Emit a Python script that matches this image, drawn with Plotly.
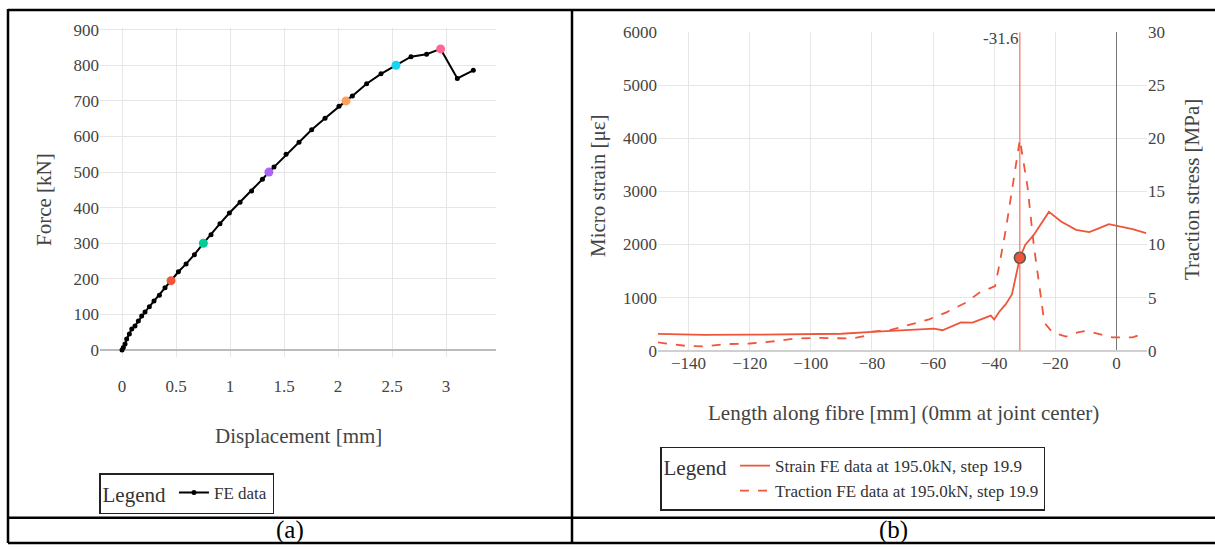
import plotly.graph_objects as go

# ---------------- Panel (a) data ----------------
disp_mm = [0, 0.012, 0.028, 0.043, 0.068, 0.09, 0.12, 0.151, 0.182, 0.213, 0.253, 0.296,
           0.346, 0.398, 0.454, 0.522, 0.593, 0.67, 0.753, 0.824, 0.907, 0.994, 1.093,
           1.2, 1.30, 1.36, 1.407, 1.519, 1.639, 1.756, 1.88, 2.009, 2.074, 2.133, 2.265,
           2.398, 2.537, 2.676, 2.82, 2.95, 3.105, 3.253]
force_kN = [0, 7, 17, 31, 45, 59, 68, 82, 96, 107, 122, 138, 154, 175, 195, 220, 242, 268,
            300, 324, 355, 385, 415, 447, 480, 500, 514, 550, 584, 619, 651, 685, 700, 714,
            748, 776, 800, 824, 831, 846, 763, 786]
highlight_idx = [14, 18, 25, 32, 36, 39]
highlight_colors = ["#EF553B", "#00CC96", "#AB63FA", "#FFA15A", "#19D3F3", "#FF6692"]

# ---------------- Panel (b) data ----------------
strain_x = [-150, -135, -120, -100, -90, -79.9, -66.8, -59.7, -56.9, -54.8, -50.9, -47.1,
            -43.8, -41.1, -40, -38.4, -36.2, -34.2, -32.9, -31.6, -29.8, -27.0, -22.1,
            -18.1, -13.2, -8.9, -5.6, -2.5, 1.0, 5.3, 9.7]
strain_ue = [315, 298, 300, 305, 318, 353, 390, 416, 384, 435, 530, 528, 603, 660, 585, 728,
             875, 1059, 1403, 1750, 1997, 2184, 2615, 2434, 2278, 2235, 2310, 2385, 2340,
             2291, 2216]
traction_x = [-150, -141, -134.5, -128, -120, -110.5, -105, -98.5, -86.5, -82, -79.9, -74.4,
              -69, -61.3, -55.8, -49.3, -44.9, -40.6, -39.7, -38.4, -36.2, -34.0, -31.6,
              -29.1, -27.0, -25.2, -23.6, -20.9, -16.5, -12.7, -9.9, -5.6, -1.2, 5.3, 9.7]
traction_MPa = [0.77, 0.45, 0.39, 0.61, 0.67, 0.92, 1.14, 1.2, 1.14, 1.39, 1.8, 1.92, 2.33,
                2.95, 3.58, 4.52, 5.46, 5.92, 6.08, 7.95, 11.4, 15.45, 19.9, 15.45, 9.83,
                6.08, 2.64, 1.71, 1.33, 1.71, 1.86, 1.55, 1.24, 1.24, 1.71]
peak_x = -31.6
peak_strain = 1750

W, H = 1215, 553
FONT = "Liberation Serif"
RED = "#EF553B"
# the photographed page appears offset/squeezed vertically; compensate placement
Y_OFF, Y_SCALE = 8.0, 0.971


def px(x):
    return x / W


def py(y):
    yp = (y - Y_OFF) / Y_SCALE
    return min(1.0, max(0.0, 1 - yp / H))


fig = go.Figure()

# Panel (a)
fig.add_trace(go.Scatter(x=disp_mm, y=force_kN, mode="lines+markers", name="FE data",
                         line=dict(color="black", width=2), marker=dict(color="black", size=5),
                         xaxis="x", yaxis="y", legend="legend"))
fig.add_trace(go.Scatter(x=[disp_mm[i] for i in highlight_idx],
                         y=[force_kN[i] for i in highlight_idx], mode="markers",
                         marker=dict(color=highlight_colors, size=9), showlegend=False,
                         xaxis="x", yaxis="y"))

# Panel (b)
fig.add_trace(go.Scatter(x=strain_x, y=strain_ue, mode="lines",
                         name="Strain FE data at 195.0kN, step 19.9",
                         line=dict(color=RED, width=1.8), xaxis="x2", yaxis="y2",
                         legend="legend2"))
fig.add_trace(go.Scatter(x=traction_x, y=traction_MPa, mode="lines",
                         name="Traction FE data at 195.0kN, step 19.9",
                         line=dict(color=RED, width=1.8, dash="dash"), xaxis="x2", yaxis="y3",
                         legend="legend2"))
fig.add_trace(go.Scatter(x=[peak_x], y=[peak_strain], mode="markers", showlegend=False,
                         marker=dict(color=RED, size=11, line=dict(color="#555", width=1.5)),
                         xaxis="x2", yaxis="y2"))

tickfont = dict(family=FONT, size=17, color="#444")
grid = "#E6E6E6"

fig.update_layout(
    width=W, height=H, autosize=False,
    margin=dict(l=0, r=0, t=0, b=0),
    paper_bgcolor="white", plot_bgcolor="white",
    font=dict(family=FONT, color="#444"),
    xaxis=dict(domain=[px(100), px(496)], range=[-0.204, 3.463], dtick=0.5, anchor="y",
               gridcolor=grid, zeroline=False, showline=False,
               tickfont=tickfont, ticklabelstandoff=17),
    yaxis=dict(domain=[py(358), py(27)], range=[-19.6, 905], dtick=100, anchor="x",
               gridcolor=grid, zeroline=True, zerolinecolor="#BBBBBB", zerolinewidth=1.5,
               showline=False, tickfont=tickfont),
    xaxis2=dict(domain=[px(658), px(1147)], range=[-150, 10], dtick=20, anchor="y2",
                gridcolor=grid, zeroline=True, zerolinecolor="#777", zerolinewidth=1,
                showline=False, tickfont=tickfont),
    yaxis2=dict(domain=[py(351.5), py(31.5)], range=[0, 6000], dtick=1000, anchor="x2",
                gridcolor=grid, zeroline=True, zerolinecolor="#D0D0D0", zerolinewidth=1.5,
                showline=False, tickfont=tickfont),
    yaxis3=dict(overlaying="y2", side="right", anchor="x2", range=[0, 30], dtick=5,
                showgrid=False, zeroline=False, showline=False, tickfont=tickfont),
    legend=dict(x=px(99), y=py(475), xanchor="left", yanchor="top",
                bordercolor="#222", borderwidth=1.5, bgcolor="white",
                font=dict(family=FONT, size=17, color="#333"),
                title=dict(text="Legend", side="left", font=dict(family=FONT, size=21, color="#333"))),
    legend2=dict(x=px(660), y=py(448), xanchor="left", yanchor="top",
                 bordercolor="#222", borderwidth=1.5, bgcolor="white",
                 font=dict(family=FONT, size=17, color="#333"),
                 title=dict(text="Legend", side="left", font=dict(family=FONT, size=21, color="#333"))),
)

# Vertical marker line at peak location
fig.add_shape(type="line", xref="x2", yref="y2 domain", x0=peak_x, x1=peak_x, y0=0, y1=1,
              line=dict(color=RED, width=1))

# Axis titles and captions
title_font = dict(family=FONT, size=21, color="#444")
anns = [
    dict(text="Force [kN]", x=px(44), y=py(200), textangle=-90),
    dict(text="Displacement [mm]", x=px(298), y=py(437)),
    dict(text="Micro strain [με]", x=px(598), y=py(186), textangle=-90),
    dict(text="Traction stress [MPa]", x=px(1192), y=py(190), textangle=-90),
    dict(text="Length along fibre [mm] (0mm at joint center)", x=px(903), y=py(414)),
]
for a in anns:
    fig.add_annotation(xref="paper", yref="paper", showarrow=False, font=title_font,
                       xanchor="center", yanchor="middle", **a)

fig.add_annotation(xref="x2", yref="paper", x=peak_x, y=py(38), text=str(peak_x),
                   showarrow=False, xanchor="right", yanchor="middle",
                   font=dict(family=FONT, size=17, color="#444"))

cap_font = dict(family=FONT, size=25, color="black")
fig.add_annotation(xref="paper", yref="paper", x=px(290), y=py(532), text="(a)",
                   showarrow=False, font=cap_font, xanchor="center", yanchor="middle")
fig.add_annotation(xref="paper", yref="paper", x=px(893), y=py(532), text="(b)",
                   showarrow=False, font=cap_font, xanchor="center", yanchor="middle")

# Table borders
border = dict(color="black", width=2.5)
for (x0, y0, x1, y1) in [(8, 9, W, 9), (8, 3, 8, 560), (8, 546, W, 546),
                         (8, 519.5, W, 519.5), (572, 3, 572, 560)]:
    fig.add_shape(type="line", xref="paper", yref="paper", x0=px(x0), y0=py(y0),
                  x1=px(x1), y1=py(y1), line=border)

post = ("document.documentElement.style.margin='0';"
        "document.documentElement.style.overflow='hidden';"
        "document.body.style.margin='0';document.body.style.overflow='hidden';"
        "var d=document.getElementById('{plot_id}');"
        "d.style.position='absolute';d.style.top='0px';d.style.left='0px';")
fig.write_html("out.html", post_script=post, config={"displayModeBar": False})
